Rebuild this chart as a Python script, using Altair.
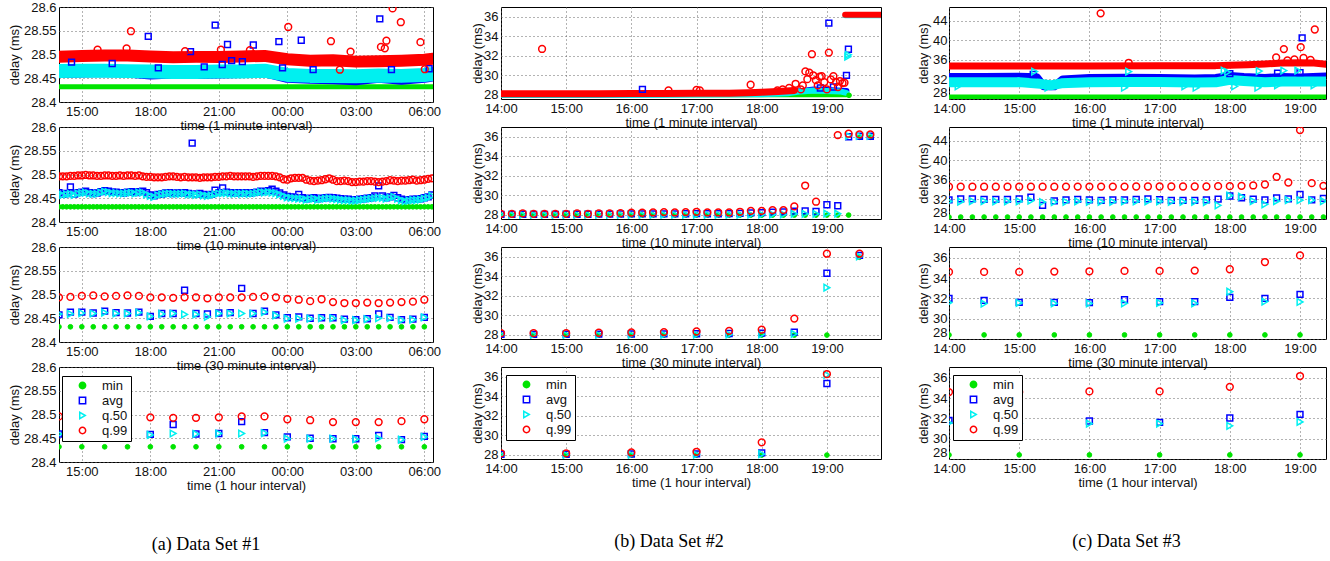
import altair as alt
import pandas as pd

SERIES = ["min", "avg", "q.50", "q.99"]
STROKES = ["#00e400", "#0000ff", "#00f0f0", "#ff0000"]
FILLS = ["#00e400", "transparent", "transparent", "transparent"]
SHAPES = ["circle", "square", "triangle-right", "circle"]
SIZES = {"min": 22, "avg": 34, "q.50": 44, "q.99": 46}
FONT = "Liberation Sans"
SERIF = "Liberation Serif"

# ---------------- Data Set #1 (hours since midnight of day 1) ----------------
ds1_min = 28.432
ds1_q99_10 = [28.496, 28.496, 28.496, 28.497, 28.497, 28.498, 28.498, 28.499, 28.498, 28.498, 28.497, 28.497,
              28.498, 28.498, 28.497, 28.497, 28.498, 28.497, 28.498, 28.498, 28.497, 28.498, 28.496, 28.495,
              28.495, 28.494, 28.494, 28.494, 28.495, 28.496, 28.496, 28.495, 28.494, 28.495, 28.494, 28.494,
              28.494, 28.493, 28.494, 28.494, 28.494, 28.495, 28.495, 28.496, 28.496, 28.497, 28.496, 28.496,
              28.496, 28.496, 28.496, 28.495, 28.496, 28.497, 28.497, 28.497, 28.497, 28.496, 28.494, 28.490,
              28.489, 28.492, 28.493, 28.493, 28.493, 28.489, 28.487, 28.486, 28.487, 28.488, 28.490, 28.492,
              28.489, 28.486, 28.486, 28.487, 28.486, 28.484, 28.484, 28.485, 28.485, 28.486, 28.486, 28.485,
              28.484, 28.485, 28.486, 28.488, 28.487, 28.486, 28.487, 28.487, 28.488, 28.489, 28.487, 28.488,
              28.489, 28.491, 28.492]
ds1_avg_10 = [28.462, 28.458, 28.460, 28.474, 28.459, 28.462, 28.463, 28.465, 28.462, 28.460, 28.461, 28.464,
              28.466, 28.465, 28.463, 28.463, 28.462, 28.461, 28.463, 28.464, 28.462, 28.464, 28.465, 28.462,
              28.457, 28.455, 28.458, 28.459, 28.461, 28.462, 28.460, 28.461, 28.461, 28.462, 28.460, 28.566,
              28.459, 28.460, 28.458, 28.457, 28.458, 28.467, 28.462, 28.472, 28.463, 28.462, 28.461, 28.462,
              28.461, 28.462, 28.461, 28.462, 28.463, 28.465, 28.464, 28.466, 28.469, 28.465, 28.461, 28.457,
              28.454, 28.453, 28.452, 28.458, 28.451, 28.449, 28.450, 28.451, 28.449, 28.450, 28.451, 28.452,
              28.451, 28.450, 28.449, 28.448, 28.448, 28.447, 28.447, 28.448, 28.449, 28.450, 28.451, 28.455,
              28.476, 28.455, 28.451, 28.453, 28.456, 28.451, 28.448, 28.446, 28.447, 28.448, 28.448, 28.449,
              28.451, 28.453, 28.457]
ds1_q50_10 = [28.460, 28.457, 28.458, 28.459, 28.457, 28.460, 28.461, 28.462, 28.460, 28.459, 28.459, 28.462,
              28.464, 28.463, 28.461, 28.461, 28.460, 28.460, 28.461, 28.462, 28.460, 28.462, 28.462, 28.458,
              28.455, 28.453, 28.456, 28.458, 28.459, 28.460, 28.459, 28.459, 28.459, 28.460, 28.458, 28.458,
              28.457, 28.458, 28.456, 28.455, 28.456, 28.458, 28.460, 28.461, 28.461, 28.460, 28.459, 28.460,
              28.459, 28.460, 28.459, 28.460, 28.461, 28.463, 28.462, 28.463, 28.462, 28.461, 28.458, 28.455,
              28.452, 28.451, 28.450, 28.449, 28.449, 28.447, 28.448, 28.449, 28.447, 28.448, 28.449, 28.450,
              28.449, 28.448, 28.447, 28.446, 28.446, 28.445, 28.445, 28.446, 28.447, 28.448, 28.449, 28.450,
              28.451, 28.451, 28.449, 28.451, 28.453, 28.449, 28.446, 28.444, 28.445, 28.446, 28.446, 28.447,
              28.449, 28.451, 28.455]
ds1_q99_30 = [28.494, 28.495, 28.497, 28.498, 28.496, 28.497, 28.498, 28.497, 28.494, 28.494, 28.493, 28.494,
              28.494, 28.492, 28.494, 28.494, 28.494, 28.495, 28.496, 28.494, 28.491, 28.489, 28.486, 28.490,
              28.484, 28.482, 28.482, 28.483, 28.482, 28.483, 28.484, 28.485, 28.489]
ds1_avg_30 = [28.457, 28.463, 28.463, 28.461, 28.465, 28.462, 28.461, 28.463, 28.454, 28.460, 28.460, 28.509,
              28.460, 28.459, 28.461, 28.462, 28.513, 28.460, 28.465, 28.457, 28.451, 28.453, 28.450, 28.451,
              28.451, 28.448, 28.447, 28.449, 28.459, 28.452, 28.447, 28.448, 28.452]
ds1_q50_30 = [28.459, 28.459, 28.461, 28.460, 28.462, 28.460, 28.460, 28.462, 28.454, 28.459, 28.460, 28.458,
              28.458, 28.453, 28.460, 28.460, 28.460, 28.460, 28.463, 28.456, 28.449, 28.449, 28.449, 28.450,
              28.450, 28.446, 28.446, 28.448, 28.450, 28.450, 28.446, 28.447, 28.452]
ds1_q99_60 = [28.496, 28.497, 28.497, 28.497, 28.494, 28.493, 28.493, 28.494, 28.496, 28.496, 28.490, 28.488,
              28.484, 28.484, 28.484, 28.486, 28.490]
ds1_avg_60 = [28.459, 28.461, 28.462, 28.461, 28.458, 28.479, 28.459, 28.460, 28.485, 28.462, 28.453, 28.450,
              28.449, 28.449, 28.456, 28.447, 28.454]
ds1_q50_60 = [28.459, 28.460, 28.460, 28.460, 28.457, 28.460, 28.459, 28.460, 28.460, 28.461, 28.449, 28.449,
              28.449, 28.448, 28.450, 28.447, 28.453]
# 1-minute panel: dense bands (centre of the band) and single outliers
ds1_band_t = [14, 15, 16, 17, 18, 19, 20, 21, 22, 23, 24, 25, 26, 27, 28, 29, 30, 30.38]
ds1_band_q99 = [28.495, 28.497, 28.498, 28.498, 28.496, 28.494, 28.495, 28.495, 28.496, 28.497, 28.490, 28.487,
                28.488, 28.485, 28.486, 28.487, 28.489, 28.491]
ds1_band_q50 = [28.465, 28.466, 28.466, 28.465, 28.464, 28.463, 28.463, 28.464, 28.464, 28.466, 28.457, 28.455,
                28.455, 28.454, 28.456, 28.455, 28.457, 28.459]
ds1_band_avg = [28.462, 28.463, 28.464, 28.463, 28.459, 28.461, 28.460, 28.461, 28.462, 28.464, 28.452, 28.450,
                28.449, 28.447, 28.452, 28.448, 28.452, 28.455]
ds1_out_q99 = [(17.15, 28.549), (15.69, 28.510), (16.96, 28.513), (24.04, 28.558), (25.91, 28.528),
               (26.77, 28.506), (28.10, 28.516), (28.27, 28.513), (28.34, 28.529), (28.61, 28.597),
               (28.97, 28.568), (29.83, 28.526), (19.52, 28.507), (22.36, 28.509), (21.09, 28.510),
               (26.30, 28.468), (30.02, 28.469)]
ds1_out_avg = [(14.55, 28.484), (16.33, 28.481), (17.91, 28.538), (18.35, 28.472), (19.76, 28.506),
               (20.36, 28.474), (20.84, 28.562), (21.15, 28.479), (21.38, 28.521), (21.56, 28.487),
               (22.03, 28.485), (22.51, 28.520), (23.63, 28.527), (23.79, 28.472), (24.61, 28.530),
               (25.13, 28.468), (28.05, 28.575), (28.56, 28.468), (30.21, 28.470)]

# ---------------- Data Set #2 ----------------
ds2_q99_10 = [28.10, 28.10, 28.14, 28.10, 28.10, 28.10, 28.10, 28.14, 28.10, 28.14, 28.14, 28.17, 28.21, 28.21,
              28.24, 28.28, 28.24, 28.28, 28.31, 28.24, 28.24, 28.24, 28.31, 28.41, 28.41, 28.48, 28.48, 28.86,
              31.00, 29.34, None, 36.17, 36.31, 36.24, 36.24]
ds2_avg_10 = [28.05, 28.05, 28.06, 28.05, 28.05, 28.05, 28.06, 28.06, 28.06, 28.07, 28.07, 28.08, 28.09, 28.09,
              28.10, 28.10, 28.10, 28.11, 28.12, 28.11, 28.11, 28.12, 28.14, 28.20, 28.22, 28.28, 28.30, 28.38,
              28.41, 28.34, 29.03, 28.93, 36.00, 36.05, 36.05]
ds2_q50_10 = [28.00, 28.00, 28.00, 28.00, 28.00, 28.00, 28.00, 28.00, 28.00, 28.00, 28.00, 28.00, 28.00, 28.00,
              28.00, 28.01, 28.01, 28.01, 28.01, 28.01, 28.01, 28.01, 28.01, 28.02, 28.03, 28.04, 28.05, 28.10,
              28.10, 28.10, 28.12, 28.12, 36.10, 36.10, 36.10]
ds2_min_10 = [27.97] * 33 + [35.95, 35.95]
ds2_q99_30 = [28.17, 28.17, 28.17, 28.21, 28.24, 28.28, 28.34, 28.41, 28.52, 29.66, 36.31, 36.31]
ds2_avg_30 = [28.05, 28.05, 28.06, 28.07, 28.08, 28.10, 28.11, 28.13, 28.18, 28.28, 34.31, 36.14]
ds2_q50_30 = [28.00, 28.00, 28.00, 28.00, 28.00, 28.01, 28.02, 28.03, 28.05, 28.10, 32.83, 36.03]
ds2_min_30 = [27.97] * 11 + [35.95]
ds2_q99_60 = [28.14, 28.14, 28.24, 28.31, 29.28, 36.28]
ds2_avg_60 = [28.05, 28.06, 28.08, 28.10, 28.20, 35.31]
ds2_q50_60 = [28.00, 28.00, 28.01, 28.02, 28.07, 36.20]
ds2_min_60 = [27.97, 27.97, 27.97, 27.97, 27.97, 27.97]
ds2_band_q99_a_t = [14, 14.5, 15, 15.5, 16, 16.5, 17, 17.5, 17.8, 18.0, 18.25, 18.5]
ds2_band_q99_a = [28.10, 28.10, 28.11, 28.12, 28.13, 28.14, 28.15, 28.17, 28.22, 28.27, 28.35, 28.45]
ds2_band_hi_t = [19.28, 19.83]
ds2_band_q99_b = [36.20, 36.20]
ds2_band_q50_b = [36.10, 36.10]
ds2_band_q50_a_t = [14, 15, 16, 17, 18, 18.4, 18.6, 18.8, 19.0, 19.2, 19.3]
ds2_band_q50_a = [27.98, 27.99, 28.00, 28.02, 28.05, 28.15, 28.35, 28.45, 28.40, 28.35, 28.20]
ds2_band_avg_a_t = [14, 16, 18, 18.5, 18.8, 19.0, 19.3]
ds2_band_avg_a = [28.03, 28.05, 28.10, 28.30, 28.55, 28.50, 28.40]
ds2_band_min_t = [14, 19.33]
ds2_band_min = [27.95, 27.95]
ds2_out_q99 = [(14.63, 32.70), (17.83, 29.03), (18.24, 28.45), (18.32, 28.55), (18.42, 28.70), (18.52, 29.13),
               (18.60, 28.55), (18.63, 28.96), (18.67, 30.40), (18.70, 29.60), (18.73, 30.27), (18.77, 32.16),
               (18.79, 30.00), (18.83, 29.50), (18.86, 28.96), (18.89, 29.86), (18.92, 29.92), (18.96, 29.30),
               (19.00, 28.55), (19.03, 32.33), (19.06, 29.58), (19.10, 29.92), (19.14, 29.30), (19.17, 28.80),
               (19.20, 29.41), (19.24, 29.20), (19.27, 29.24), (16.57, 28.45), (17.00, 28.50), (17.05, 28.45)]
ds2_out_avg = [(16.17, 28.55), (19.03, 35.35), (19.33, 32.67), (19.30, 30.00), (18.90, 28.70), (19.10, 28.80)]
ds2_out_q50 = [(19.33, 32.10), (19.32, 31.90)]
ds2_out_min = [(19.34, 27.95)]

# ---------------- Data Set #3 ----------------
ds3_min = 28.4
ds3_q99_10 = [34.60, 34.60, 34.60, 34.60, 34.60, 34.60, 34.60, 34.60, 34.60, 34.60, 34.62, 34.62, 34.62, 34.62,
              34.62, 34.62, 34.64, 34.64, 34.64, 34.64, 34.64, 34.64, 34.64, 34.71, 34.71, 34.78, 34.85, 35.05,
              36.61, 35.46, 46.17, 35.32, 34.78]
ds3_avg_10 = [31.90, 32.10, 32.10, 32.00, 32.00, 32.00, 32.10, 32.45, 30.80, 31.70, 31.90, 32.00, 31.90, 31.80,
              31.90, 31.90, 32.00, 32.10, 31.95, 31.80, 31.80, 31.80, 31.90, 32.05, 32.70, 32.35, 32.05, 31.90,
              32.30, 32.10, 33.00, 31.90, 32.20]
ds3_q50_10 = [31.60, 31.55, 31.65, 31.65, 31.60, 31.60, 31.60, 31.75, 31.45, 31.45, 31.50, 31.60, 31.50, 31.50,
              31.50, 31.60, 31.60, 31.60, 31.60, 31.50, 31.50, 31.50, 31.45, 30.80, 32.80, 32.55, 31.65, 31.00,
              31.65, 31.85, 31.85, 31.85, 31.65]
ds3_q99_30 = [34.60, 34.60, 34.60, 34.63, 34.66, 34.70, 34.70, 34.73, 34.86, 35.57, 36.22]
ds3_avg_30 = [32.00, 31.80, 31.61, 31.61, 31.58, 31.87, 31.68, 31.68, 32.10, 32.00, 32.39]
ds3_q50_30 = [31.58, 31.48, 31.55, 31.51, 31.51, 31.51, 31.55, 31.51, 32.65, 31.68, 31.64]
ds3_q99_60 = [34.58, 34.58, 34.65, 34.65, 35.10, 36.16]
ds3_avg_60 = [31.80, 31.55, 31.74, 31.61, 32.03, 32.39]
ds3_q50_60 = [31.55, 31.48, 31.48, 31.48, 31.26, 31.65]
ds3_band_q99_t = [14, 15, 16, 17, 17.5, 17.8, 18, 18.25, 18.5, 18.75, 19, 19.2, 19.37]
ds3_band_q99 = [34.75, 34.75, 34.75, 34.77, 34.80, 34.82, 34.90, 35.00, 35.15, 35.35, 35.40, 35.35, 35.10]
ds3_band_avg_t = [14, 14.5, 15, 15.25, 15.35, 15.5, 15.62, 16, 16.5, 17, 17.5, 17.8, 18, 18.2, 18.5, 18.75, 19, 19.37]
ds3_band_avg = [32.50, 32.50, 32.55, 32.45, 30.60, 30.60, 32.00, 32.30, 32.35, 32.30, 32.20, 32.30, 32.70, 32.50,
                32.30, 32.50, 32.40, 32.60]
ds3_band_q50_t = [14, 14.5, 15, 15.3, 15.45, 15.6, 16, 16.5, 17, 17.5, 17.8, 18, 18.2, 18.5, 18.75, 19, 19.37]
ds3_band_q50 = [31.40, 31.40, 31.45, 31.10, 30.80, 31.20, 31.40, 31.45, 31.45, 31.35, 31.40, 31.90, 31.70, 31.40,
                31.60, 31.60, 31.60]
ds3_out_q99 = [(16.16, 45.50), (16.56, 35.40), (18.66, 36.50), (18.77, 38.20), (18.82, 35.90), (18.92, 36.10),
               (19.01, 38.60), (19.05, 36.40), (19.21, 42.20), (19.15, 36.00)]
ds3_out_avg = [(19.03, 40.50), (18.68, 33.30), (15.20, 33.00), (18.00, 33.20), (19.00, 33.40)]
ds3_out_q50 = [(15.22, 33.6), (16.56, 33.6), (17.92, 33.8), (17.97, 33.5), (18.42, 33.7), (18.77, 33.8),
               (18.97, 33.8), (14.13, 30.6), (15.41, 30.3), (16.50, 30.3), (17.36, 30.6), (17.52, 30.3),
               (18.07, 30.6), (18.40, 30.3), (18.68, 30.8), (19.20, 30.8)]

HOUR_EXPR = "(datum.value % 24 < 10 ? '0' : '') + (datum.value % 24) + ':00'"


def grid(n, step_min):
    return [14.0 + i * step_min / 60.0 for i in range(n)]


def series_frame(times, mins, avgs, q50s, q99s):
    rows = []
    for name, vals in zip(SERIES, [mins, avgs, q50s, q99s]):
        if not isinstance(vals, list):
            vals = [vals] * len(times)
        for t, v in zip(times, vals):
            if v is not None:
                rows.append({"t": t, "v": v, "s": name})
    return pd.DataFrame(rows)


def outlier_frame(**lists):
    rows = []
    for name, pts in lists.items():
        for t, v in pts:
            rows.append({"t": t, "v": v, "s": name})
    if not rows:
        return pd.DataFrame({"t": [], "v": [], "s": []})
    return pd.DataFrame(rows)


COLS = {
    1: dict(xdom=[14, 30.38], xt=[15, 18, 21, 24, 27, 30], w=374, h=95, flush=False,
            fmt=".4~g", lpad=3, ext=34, tpad=4, leg=(3, 9), cap="(a) Data Set #1", dx=-40),
    2: dict(xdom=[14, 19.83], xt=[14, 15, 16, 17, 18, 19], w=380, h=92, flush=False,
            fmt="d", lpad=3, ext=16, tpad=1, leg=(5, 8), cap="(b) Data Set #2", dx=-22),
    3: dict(xdom=[14, 19.37], xt=[14, 15, 16, 17, 18, 19], w=377, h=92, flush=True,
            fmt="d", lpad=2, ext=17, tpad=2, leg=(4, 8), cap="(c) Data Set #3", dx=-11),
}


def panel(col, ydom, yt, xtitle, pts, bands=(), legend=False, caption=False):
    c = COLS[col]
    x = alt.X("t:Q", scale=alt.Scale(domain=c["xdom"], nice=False, zero=False),
              axis=alt.Axis(values=c["xt"], labelExpr=HOUR_EXPR, title=xtitle, grid=True,
                            labelFlush=False, labelOverlap=False, labelPadding=3,
                            titlePadding=1, minExtent=16, maxExtent=16))
    y = alt.Y("v:Q", scale=alt.Scale(domain=ydom, nice=False, zero=False),
              axis=alt.Axis(values=yt, format=c["fmt"], title="delay (ms)", grid=True,
                            labelFlush=c["flush"], labelOverlap=False, labelPadding=c["lpad"],
                            minExtent=c["ext"], maxExtent=c["ext"], titlePadding=c["tpad"]))
    layers = []
    for color, width, ts, vs in bands:
        if not isinstance(vs, list):
            vs = [vs] * len(ts)
        df = pd.DataFrame({"t": ts, "v": vs})
        layers.append(alt.Chart(df).mark_line(color=color, strokeWidth=width, strokeCap="round",
                                              strokeJoin="round", clip=True).encode(x=x, y=y))
    if legend:
        leg = alt.Legend(title=None, orient="none", legendX=c["leg"][0], legendY=c["leg"][1],
                         fillColor="white", strokeColor="black", padding=3, rowPadding=1,
                         symbolSize=40, symbolStrokeWidth=1.5, symbolOffset=11, labelOffset=13,
                         labelFont=FONT, labelFontSize=13, labelColor="#111")
    else:
        leg = None
    for s in SERIES:
        sub = pts[pts["s"] == s]
        if len(sub) == 0:
            continue
        layers.append(
            alt.Chart(sub).mark_point(filled=(s == "min"), size=SIZES[s], opacity=1,
                                      strokeWidth=(1 if s == "min" else 1.5), clip=True).encode(
                x=x, y=y,
                stroke=alt.Stroke("s:N", scale=alt.Scale(domain=SERIES, range=STROKES), legend=leg),
                fill=alt.Fill("s:N", scale=alt.Scale(domain=SERIES, range=FILLS), legend=leg),
                shape=alt.Shape("s:N", scale=alt.Scale(domain=SERIES, range=SHAPES), legend=leg),
            )
        )
    ch = alt.layer(*layers).properties(width=c["w"], height=c["h"])
    if caption:
        ch = ch.properties(title=alt.TitleParams(c["cap"], orient="bottom", font=SERIF, fontSize=18,
                                                 fontWeight="normal", color="black", offset=44,
                                                 frame="group", anchor="middle", dx=c["dx"]))
    return ch


Y1 = ([28.4, 28.6], [28.4, 28.45, 28.5, 28.55, 28.6])
Y2 = ([27.57, 37.0], [28, 30, 32, 34, 36])
Y3a = ([28.0, 46.8], [28, 32, 36, 40, 44])
Y3b = ([28.0, 37.05], [28, 30, 32, 34, 36])
T1 = "time (1 minute interval)"
T10 = "time (10 minute interval)"
T30 = "time (30 minute interval)"
T60 = "time (1 hour interval)"
G, B, C, R = STROKES

# column 1
p1_1 = panel(1, *Y1, T1, outlier_frame(avg=ds1_out_avg, **{"q.99": ds1_out_q99}),
             bands=[(G, 5, ds1_band_t, ds1_min), (B, 11, ds1_band_t, ds1_band_avg),
                    (C, 14, ds1_band_t, ds1_band_q50), (R, 12, ds1_band_t, ds1_band_q99)])
p1_2 = panel(1, *Y1, T10, series_frame(grid(99, 10), ds1_min, ds1_avg_10, ds1_q50_10, ds1_q99_10))
p1_3 = panel(1, *Y1, T30, series_frame(grid(33, 30), ds1_min, ds1_avg_30, ds1_q50_30, ds1_q99_30))
p1_4 = panel(1, *Y1, T60, series_frame(grid(17, 60), ds1_min, ds1_avg_60, ds1_q50_60, ds1_q99_60),
             legend=True, caption=True)
# column 2
p2_1 = panel(2, *Y2, T1, outlier_frame(min=ds2_out_min, avg=ds2_out_avg,
                                       **{"q.50": ds2_out_q50, "q.99": ds2_out_q99}),
             bands=[(G, 4, ds2_band_min_t, ds2_band_min), (B, 6, ds2_band_avg_a_t, ds2_band_avg_a),
                    (C, 6, ds2_band_q50_a_t, ds2_band_q50_a), (C, 5, ds2_band_hi_t, ds2_band_q50_b),
                    (R, 7, ds2_band_q99_a_t, ds2_band_q99_a), (R, 6, ds2_band_hi_t, ds2_band_q99_b)])
p2_2 = panel(2, *Y2, T10, series_frame(grid(35, 10), ds2_min_10, ds2_avg_10, ds2_q50_10, ds2_q99_10))
p2_3 = panel(2, *Y2, T30, series_frame(grid(12, 30), ds2_min_30, ds2_avg_30, ds2_q50_30, ds2_q99_30))
p2_4 = panel(2, *Y2, T60, series_frame(grid(6, 60), ds2_min_60, ds2_avg_60, ds2_q50_60, ds2_q99_60),
             legend=True, caption=True)
# column 3
p3_1 = panel(3, *Y3a, T1, outlier_frame(avg=ds3_out_avg, **{"q.50": ds3_out_q50, "q.99": ds3_out_q99}),
             bands=[(G, 5, [14, 19.37], ds3_min), (B, 8, ds3_band_avg_t, ds3_band_avg),
                    (C, 10, ds3_band_q50_t, ds3_band_q50), (R, 7, ds3_band_q99_t, ds3_band_q99)])
p3_2 = panel(3, *Y3a, T10, series_frame(grid(33, 10), ds3_min, ds3_avg_10, ds3_q50_10, ds3_q99_10))
p3_3 = panel(3, *Y3b, T30, series_frame(grid(11, 30), ds3_min, ds3_avg_30, ds3_q50_30, ds3_q99_30))
p3_4 = panel(3, *Y3b, T60, series_frame(grid(6, 60), ds3_min, ds3_avg_60, ds3_q50_60, ds3_q99_60),
             legend=True, caption=True)

chart = alt.concat(
    p1_1, p2_1, p3_1,
    p1_2, p2_2, p3_2,
    p1_3, p2_3, p3_3,
    p1_4, p2_4, p3_4,
    columns=3, spacing={"row": 25, "column": 68}, bounds="flush", align="each",
).resolve_scale(
    x="independent", y="independent", stroke="independent", fill="independent", shape="independent"
).resolve_legend(
    stroke="independent", fill="independent", shape="independent"
).properties(
    padding={"left": 7, "top": 0, "right": 0, "bottom": 0}
).configure_view(
    stroke="black", strokeWidth=1
).configure_axis(
    domain=False, ticks=False, gridColor="#666", gridDash=[1, 3], gridWidth=1, gridOpacity=1,
    labelFont=FONT, labelFontSize=13, labelColor="#111",
    titleFont=FONT, titleFontSize=13, titleFontWeight="normal", titleColor="#111",
)

chart.save("out.html", embed_options={"renderer": "svg", "actions": False})
